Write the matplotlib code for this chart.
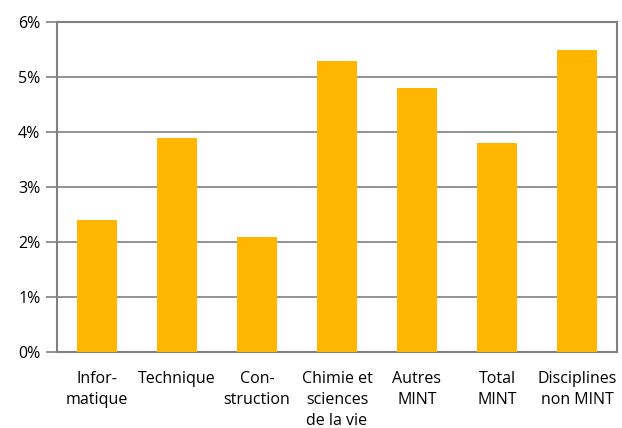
#bar chart of rates by discipline

import matplotlib.pyplot as plt
import numpy as np

plt.rcParams['font.family'] = ['Open Sans', 'DejaVu Sans']

categories = ['Infor-\nmatique', 'Technique', 'Con-\nstruction', 'Chimie et\nsciences\nde la vie',
              'Autres\nMINT', 'Total\nMINT', 'Disciplines\nnon MINT']
values = [2.4, 3.9, 2.1, 5.3, 4.8, 3.8, 5.5]
yticks = [0, 1, 2, 3, 4, 5, 6]

fig = plt.figure(figsize=(6.22, 4.28), dpi=100)
ax = fig.add_axes([57/622, 1 - 352/428, 560/622, 330/428])

x = np.arange(len(categories))
ax.bar(x, values, width=0.5, color='#FFB600', zorder=3)

ax.set_xlim(-0.5, len(categories) - 0.5)
ax.set_ylim(0, 6)
ax.set_yticks(yticks)
ax.set_yticklabels(['%d%%' % t for t in yticks], fontsize=11.5)
ax.set_xticks(x)
ax.set_xticklabels(categories, fontsize=11.5, linespacing=1.4, va='top')
ax.tick_params(axis='x', length=0, pad=14)
ax.tick_params(axis='y', length=8, width=1.2, color='#808080', pad=4)
ax.yaxis.grid(True, color='#808080', linewidth=1.2, zorder=0)
for s in ax.spines.values():
	s.set_color('#808080')
	s.set_linewidth(1.5)

plt.savefig('out.png', dpi=100)
